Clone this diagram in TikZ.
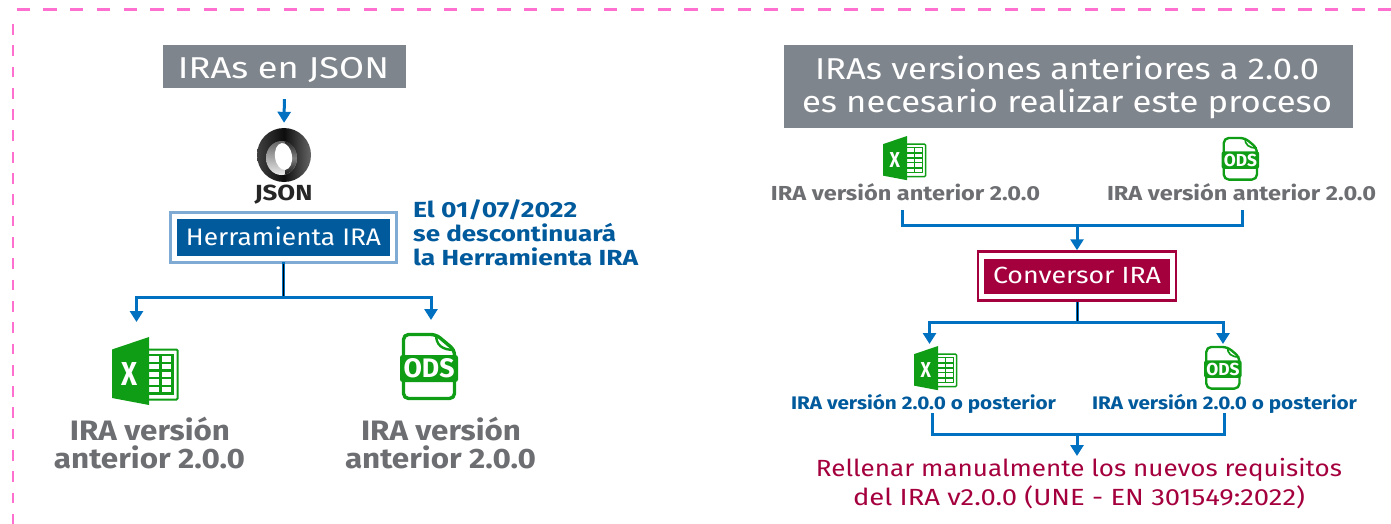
\documentclass[tikz,border=0pt]{standalone}
\usepackage{graphicx}
\usepackage{fontspec}
\setmainfont{Fira Sans}
\usetikzlibrary{arrows.meta,calc}
\definecolor{pinkd}{HTML}{FF6FD0}
\definecolor{flow}{HTML}{0070C0}
\definecolor{slate}{HTML}{7F858C}
\definecolor{navy}{HTML}{005A9C}
\definecolor{navyl}{HTML}{7FAAD3}
\definecolor{wine}{HTML}{A5003E}
\definecolor{greyt}{HTML}{6D6E71}
\definecolor{xlgreen}{HTML}{0F9D15}
% width-fitted text: width, font size, text
\newcommand{\T}[3]{\resizebox{#1pt}{\height}{\fontsize{\fpeval{#2*1.04}}{#2}\selectfont #3}}
\def\lwk{1}
\tikzset{
  txt/.style={inner sep=0pt,anchor=base},
  pinkline/.style={pinkd,line width=2.4pt},
  conn/.style={flow,line width=3pt},
  arr/.style={conn,-{Triangle[length=11pt,width=13pt]}},
  stem/.style={flow,line width=3pt},
  stemcore/.style={black,line width=1pt},
  excel/.pic={
    \fill[xlgreen] (0,12.5) -- (37,0) -- (37,68) -- (0,61) -- cycle;
    \draw[xlgreen,line width={2pt*\lwk},rounded corners=1pt] (37,12.5) -- (65.5,12.5) -- (65.5,62.5) -- (37,62.5);
    \draw[xlgreen,line width={2.2pt*\lwk}]
      (37,18) -- (60.5,18) (37,26) -- (60.5,26) (37,33.5) -- (60.5,33.5)
      (37,41) -- (60.5,41) (37,49) -- (60.5,49) (37,56.5) -- (60.5,56.5)
      (48.5,18) -- (48.5,56.5) (60.5,17) -- (60.5,57.5);
    \node[inner sep=0pt,white,transform shape] (-x) at (18,37) {\resizebox{16pt}{23pt}{\bfseries X}};
  },
  ods/.pic={
    \draw[xlgreen,line width={3.4pt*\lwk},rounded corners=5pt,line join=round]
      (3.5,24) -- (3.5,1.5) -- (36,1.5) -- (54.5,17) -- (54.5,24)
      (54.5,48) -- (54.5,65.5) -- (3.5,65.5) -- (3.5,48);
    \draw[xlgreen,line width={2.4pt*\lwk},line join=round] (36,1.5) .. controls (36,12) and (42,17) .. (54.5,17);
    \fill[xlgreen,rounded corners=2.5pt] (0,22) rectangle (58,49);
    \node[inner sep=0pt,white,transform shape] (-t) at (29,35.5) {\resizebox{51pt}{19pt}{\bfseries ODS}};
  }
}
\begin{document}
\begin{tikzpicture}[x=1pt,y=-1pt]
\useasboundingbox (0,0) rectangle (1391,524);
% frame
\coordinate (fa) at (16.7,9.5);
\coordinate (fb) at (1391,9.5);
\coordinate (fc) at (12.7,24);
\coordinate (fd) at (12.7,524);
\draw[pinkline,dash pattern=on 13.3pt off 13.4pt] (fa) -- (fb);
\draw[pinkline,dash pattern=on 10.7pt off 10.6pt] (fc) -- (fd);

% LEFT
\node[fill=slate,minimum width=243pt,minimum height=43pt,inner sep=0pt] (titleL) at (284.5,66.5) {};
\node[txt,white] (titleLt) at (283.5,78.5) {\T{211}{29}{IRAs en JSON}};

% JSON logo
\coordinate (jc) at (284,155);
\shade[left color=black!75,right color=black!60,middle color=black!95] (jc) circle [radius=27];
\shade[top color=black!60,bottom color=black!8] (281.5,158) ellipse [x radius=15.5,y radius=17];
\begin{scope}
  \clip (285,130) rectangle (300,180);
  \shade[top color=black!85,bottom color=black!92,middle color=black!50] (281.5,158) ellipse [x radius=15.5,y radius=17];
\end{scope}
\fill[white,rotate around={8:(283.5,156.5)}] (283.5,156.5) ellipse [x radius=8.5,y radius=13.5];
\node[circle,inner sep=0pt,minimum size=54pt] (jring) at (jc) {};
\node[txt,black!85] (jlabel) at (283.5,200) {\T{58}{21}{\bfseries JSON}};

\node[draw=navyl,line width=3pt,minimum width=226pt,minimum height=50pt,inner sep=0pt] (herrO) at (283.5,237.5) {};
\node[fill=navy,minimum width=213pt,minimum height=37pt,inner sep=0pt] (herr) at (283.5,237.5) {};
\node[txt,white] (herrt) at (283.5,245) {\T{195}{23}{Herramienta IRA}};

\node[txt,navy,anchor=base west] (n1) at (413,217) {\T{164}{21}{\bfseries El 01/07/2022}};
\node[txt,navy,anchor=base west] (n2) at (413,241) {\T{203}{21}{\bfseries se descontinuará}};
\node[txt,navy,anchor=base west] (n3) at (413,265) {\T{225}{21}{\bfseries la Herramienta IRA}};

\coordinate (bL) at (283.5,297);
\coordinate (bLat) at (136.5,322);
\coordinate (bLbt) at (431,320);
\draw[arr,shorten <=11pt,shorten >=5pt] (titleL.south) -- (jring.north);
\draw[stem,shorten <=-2pt] (herrO.south) -- (bL);
\draw[stemcore] (herrO.south) -- (bL);
\draw[arr] (bL) -| (bLat);
\draw[arr] (bL) -| (bLbt);

\pic (exL) at (112,337) {excel};
\pic (odL) at (400,333) {ods};

\node[txt,greyt] (l1) at (150,440) {\T{160}{27}{\bfseries IRA versión}};
\node[txt,greyt] (l2) at (149.5,468) {\T{191}{27}{\bfseries anterior 2.0.0}};
\node[txt,greyt] (l3) at (441,440) {\T{160}{27}{\bfseries IRA versión}};
\node[txt,greyt] (l4) at (440.5,468) {\T{191}{27}{\bfseries anterior 2.0.0}};

% RIGHT
\node[fill=slate,minimum width=569pt,minimum height=83pt,inner sep=0pt] (titleR) at (1068.5,86.5) {};
\node[txt,white] (tr1) at (1067,80) {\T{504}{29}{IRAs versiones anteriores a 2.0.0}};
\node[txt,white] (tr2) at (1067,113) {\T{530}{29}{es necesario realizar este proceso}};

\def\lwk{0.7}
\pic[scale=0.65] (exA) at (883,136) {excel};
\pic[scale=0.65] (odA) at (1221.5,137) {ods};
\node[txt,greyt] (a1) at (905.5,200) {\T{269}{19.5}{\bfseries IRA versión anterior 2.0.0}};
\node[txt,greyt] (a2) at (1241.5,200) {\T{269}{19.5}{\bfseries IRA versión anterior 2.0.0}};

\node[draw=wine,line width=2.5pt,minimum width=198pt,minimum height=49pt,inner sep=0pt] (convO) at (1077,276) {};
\node[fill=wine,minimum width=186pt,minimum height=35pt,inner sep=0pt] (conv) at (1077,276) {};
\node[txt,white] (convt) at (1077,283.5) {\T{168}{22.5}{Conversor IRA}};

\coordinate (ca) at (902.5,210);
\coordinate (cb) at (1242.5,210);
\coordinate (cm) at (1077,225);
\draw[conn] (ca) |- (cm) -| (cb);
\draw[arr] (cm) -- (convO.north);

\coordinate (dm) at (1077,322);
\coordinate (da) at (929.5,344);
\coordinate (db) at (1223,344);
\draw[stem] (convO.south) -- (dm);
\draw[stemcore] (convO.south) -- (dm);
\draw[arr] (dm) -| (da);
\draw[arr] (dm) -| (db);

\pic[scale=0.65] (exB) at (914,346) {excel};
\pic[scale=0.65] (odB) at (1204,346) {ods};
\node[txt,navy] (b1) at (923.5,409) {\T{265}{17.5}{\bfseries IRA versión 2.0.0 o posterior}};
\node[txt,navy] (b2) at (1224.5,409) {\T{265}{17.5}{\bfseries IRA versión 2.0.0 o posterior}};

\coordinate (ea) at (932.5,413);
\coordinate (eb) at (1224,413);
\coordinate (em) at (1077,434);
\draw[conn] (ea) |- (em) -| (eb);
\node[txt,wine] (r1) at (1079,476) {\T{526}{22.5}{Rellenar manualmente los nuevos requisitos}};
\node[txt,wine] (r2) at (1079,505) {\T{452}{22.5}{del IRA v2.0.0 (UNE - EN 301549:2022)}};
\coordinate (ra) at (1077,456);
\draw[arr] (em) -- (ra);
\end{tikzpicture}
\end{document}
